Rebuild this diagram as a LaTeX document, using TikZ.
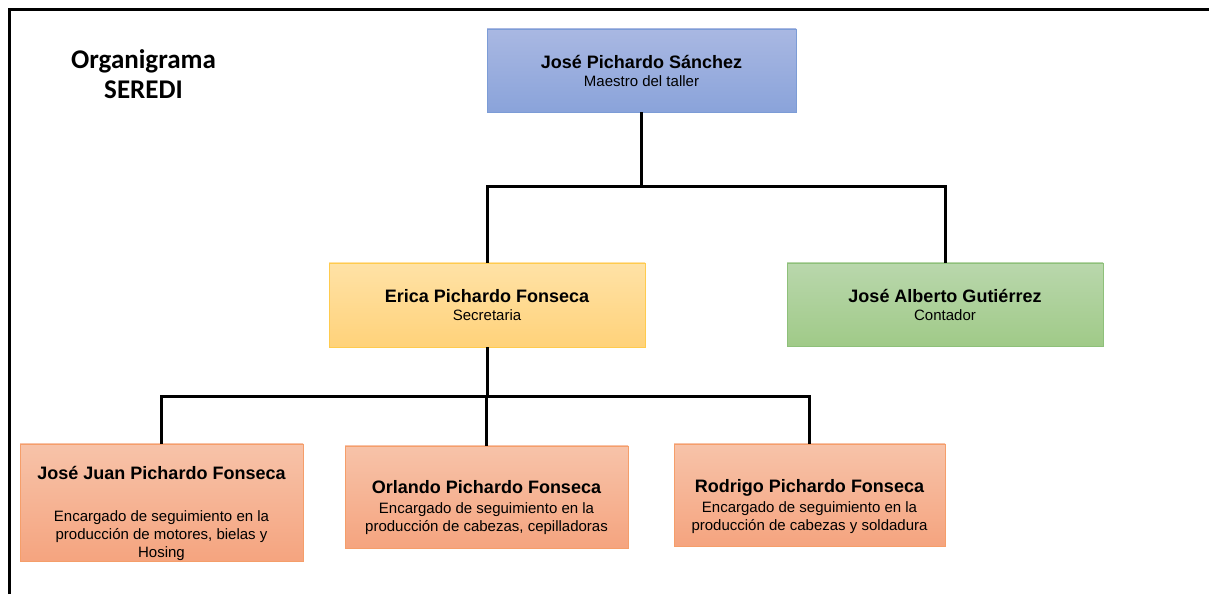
\documentclass[tikz,border=0pt]{standalone}
\usepackage{fontspec}
\setmainfont{Liberation Sans}
\newfontfamily\titulofont{Carlito}
\usepackage{tikz}
\usepackage{xcolor}
\usetikzlibrary{positioning,calc}

\definecolor{azulA}{HTML}{A9B8E2}
\definecolor{azulB}{HTML}{8AA3DA}
\definecolor{azulBorde}{HTML}{7C9CD6}
\definecolor{oroA}{HTML}{FFE2A6}
\definecolor{oroB}{HTML}{FFD27A}
\definecolor{oroBorde}{HTML}{FFCB4E}
\definecolor{verdeA}{HTML}{B9D7AC}
\definecolor{verdeB}{HTML}{A0CA88}
\definecolor{verdeBorde}{HTML}{8EC07A}
\definecolor{naranjaA}{HTML}{F7C3A9}
\definecolor{naranjaB}{HTML}{F5A47F}
\definecolor{naranjaBorde}{HTML}{F59E6A}

\tikzset{
    caja/.style={rectangle, align=center, inner sep=0pt, line width=0.8pt,
        font=\fontsize{15}{18}\selectfont},
    jefe/.style={caja, top color=azulA, bottom color=azulB, draw=azulBorde},
    secre/.style={caja, top color=oroA, bottom color=oroB, draw=oroBorde},
    conta/.style={caja, top color=verdeA, bottom color=verdeB, draw=verdeBorde},
    encargado/.style={caja, top color=naranjaA, bottom color=naranjaB, draw=naranjaBorde},
    conector/.style={line width=3pt, black},
}
\newcommand{\nombre}[1]{{\fontsize{18}{20}\selectfont\bfseries #1}}

\begin{document}
\begin{tikzpicture}[x=1pt, y=1pt]
    \useasboundingbox (0,0) rectangle (1209,594);

    % Marco
    \draw[line width=3.5pt] (9.5,0) -- (9.5,584.5) -- (1209,584.5);

    % Titulo
    \node[font=\titulofont\bfseries\fontsize{27}{30}\selectfont, align=center] (titulo) at (143.5,519.5) {Organigrama\\SEREDI};

    % Nivel 1
    \node[jefe, minimum width=309pt, minimum height=83pt] (pichardo) at (641.5,523.5)
        {\nombre{José Pichardo Sánchez}\\Maestro del taller};

    % Nivel 2
    \node[secre, minimum width=316pt, minimum height=84pt] (erica) at (487,289)
        {\nombre{Erica Pichardo Fonseca}\\Secretaria};
    \node[conta, minimum width=316pt, minimum height=83pt] (alberto) at (945,289.5)
        {\nombre{José Alberto Gutiérrez}\\Contador};

    % Nivel 3
    \node[encargado, minimum width=283pt, minimum height=117pt] (josejuan) at (161.5,91.5)
        {\rule{0pt}{35pt}\nombre{José Juan Pichardo Fonseca}\\[24pt]Encargado de seguimiento en la\\producción de motores, bielas y\\Hosing};
    \node[encargado, minimum width=283pt, minimum height=102pt] (orlando) at (486.5,97)
        {\rule{0pt}{35pt}\nombre{Orlando Pichardo Fonseca}\\[2pt]Encargado de seguimiento en la\\producción de cabezas, cepilladoras};
    \node[encargado, minimum width=271pt, minimum height=102pt] (rodrigo) at (809.5,99)
        {\rule{0pt}{37pt}\nombre{Rodrigo Pichardo Fonseca}\\[2pt]Encargado de seguimiento en la\\producción de cabezas y soldadura};

    % Conectores
    \coordinate (busA) at (641.5,407);
    \coordinate (busB) at (487,197);
    \draw[conector] (pichardo.south) -- (busA);
    \draw[conector] (busA) -| (erica.north);
    \draw[conector] (busA) -| (alberto.north);
    \draw[conector] (erica.south) -- (busB);
    \draw[conector] (busB) -| (josejuan.north);
    \draw[conector] (busB) -| (orlando.north);
    \draw[conector] (busB) -| (rodrigo.north);
\end{tikzpicture}
\end{document}
